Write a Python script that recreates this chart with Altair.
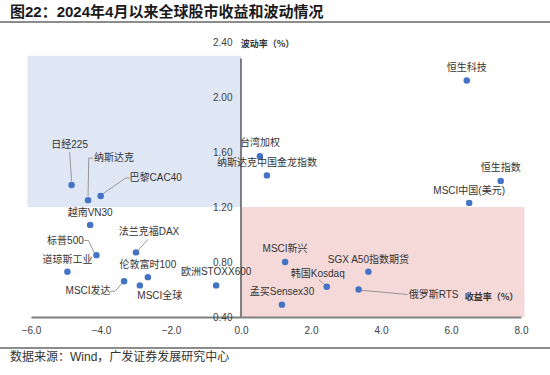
import altair as alt
import pandas as pd
import numpy as np

# ---------------- data ----------------
names = ["恒生科技", "恒生指数", "MSCI中国(美元)", "台湾加权", "纳斯达克中国金龙指数",
         "日经225", "纳斯达克", "巴黎CAC40", "越南VN30", "标普500", "道琼斯工业",
         "法兰克福DAX", "伦敦富时100", "MSCI发达", "MSCI全球", "欧洲STOXX600",
         "MSCI新兴", "SGX A50指数期货", "韩国Kosdaq", "俄罗斯RTS", "孟买Sensex30"]
returns = [6.45, 7.42, 6.52, 0.54, 0.74,
           -4.84, -4.37, -4.01, -4.31, -4.13, -4.96,
           -3.00, -2.66, -3.34, -2.89, -0.71,
           1.26, 3.64, 2.45, 3.36, 1.17]
vols = [2.12, 1.39, 1.23, 1.57, 1.43,
        1.36, 1.25, 1.28, 1.07, 0.85, 0.73,
        0.87, 0.69, 0.66, 0.63, 0.63,
        0.80, 0.73, 0.62, 0.60, 0.49]

x_ticks = [-6, -4, -2, 0, 2, 4, 6, 8]
y_ticks = [0.4, 0.8, 1.2, 1.6, 2.0, 2.4]

# label placement offsets (pixels, relative to the point)
label_dx = [0, 0, 0, 0, 0, -2, 26, 55, 0, -31, 0, 13, 0, -36, 20, 0, 0, 0, -9, 75, 0]
label_dy = [-13, -13, -12, -13, -12, -40, -42, -18, -12, -14, -12, -20, -12, 10, 11, -13, -13, -12, -13, 5, -13]

# leader segments: (name, dx1, dy1, dx2, dy2) in pixels relative to the point
leaders = [
    ("日经225", 0, -4, -2, -33),
    ("纳斯达克", 0, -4, 0.7, -42), ("纳斯达克", 0.7, -42, 5, -42),
    ("巴黎CAC40", 2, -2, 25, -18), ("巴黎CAC40", 25, -18, 29, -18),
    ("标普500", -2, -2, -8, -14.6), ("标普500", -8, -14.6, -12, -14.6),
    ("法兰克福DAX", 2, -2, 12, -13),
    ("MSCI发达", -1.5, 1.5, -9, 10), ("MSCI发达", -9, 10, -14, 10),
    ("韩国Kosdaq", -1.3, -1.3, -8, -7),
    ("俄罗斯RTS", 2, 0.7, 49, 5),
]

# shaded zones
zone_x = [-6.1, 0.0]
zone_x2 = [0.0, 8.1]
zone_y = [1.2, 0.4]
zone_y2 = [2.3, 1.2]
zone_color = ["#dfe7f4", "#f5d9d9"]

# ---------------- layout ----------------
W, H = 490, 275
X_DOM = [-6, 8]
Y_DOM = [0.4, 2.4]
px_x = (X_DOM[1] - X_DOM[0]) / W
px_y = (Y_DOM[1] - Y_DOM[0]) / H

FONT = "Liberation Sans, Noto Sans CJK SC"

pts = pd.DataFrame({"name": names, "ret": returns, "vol": vols})
pts["lx"] = pts["ret"] + np.array(label_dx) * px_x
pts["ly"] = pts["vol"] - np.array(label_dy) * px_y

pos = dict(zip(names, zip(returns, vols)))
seg = pd.DataFrame([
    {"x": pos[n][0] + a * px_x, "y": pos[n][1] - b * px_y,
     "x2": pos[n][0] + c * px_x, "y2": pos[n][1] - d * px_y}
    for n, a, b, c, d in leaders
])

zones = pd.DataFrame({"x": zone_x, "x2": zone_x2, "y": zone_y, "y2": zone_y2, "c": zone_color})

xs = alt.Scale(domain=X_DOM, nice=False, zero=False)
ys = alt.Scale(domain=Y_DOM, nice=False, zero=False)

x_axis = alt.Axis(values=x_ticks, format=".1f", grid=False, ticks=False, zindex=1,
                  labelOverlap=False, labelFlush=False,
                  domainColor="#808080", domainWidth=2.2, labelFont=FONT,
                  labelFontSize=10, labelColor="#404040", labelPadding=8,
                  title="收益率（%）", titleFont="Noto Sans CJK SC", titleFontSize=9,
                  titleFontWeight="bold", titleColor="#333333", titleAngle=0,
                  titleX=460, titleY=-21, titleAlign="center", titleBaseline="middle")
y_axis = alt.Axis(values=y_ticks, format=".2f", grid=False, ticks=False, domain=False,
                  zindex=1, labelOverlap=False, labelFlush=False,
                  offset=-210, labelFont=FONT, labelFontSize=10, labelColor="#404040",
                  labelPadding=9,
                  title="波动率（%）", titleFont="Noto Sans CJK SC", titleFontSize=9,
                  titleFontWeight="bold", titleColor="#333333", titleAngle=0,
                  titleX=26, titleY=1, titleAlign="center", titleBaseline="middle")


def X(field):
    return alt.X(field, type="quantitative", scale=xs, axis=x_axis)


def Y(field):
    return alt.Y(field, type="quantitative", scale=ys, axis=y_axis)


rects = alt.Chart(zones).mark_rect().encode(
    x=X("x"), x2="x2:Q", y=Y("y"), y2="y2:Q",
    color=alt.Color("c:N", scale=None),
)

yline = alt.Chart(pd.DataFrame({"x": [0.0], "y": [0.4], "y2": [2.28]})).mark_rule(
    color="#333333", strokeWidth=1.2
).encode(x=X("x"), y=Y("y"), y2="y2:Q")

lead = alt.Chart(seg).mark_rule(color="#8c8c8c", strokeWidth=0.9).encode(
    x=X("x"), y=Y("y"), x2="x2:Q", y2="y2:Q",
)

points = alt.Chart(pts).mark_circle(size=42, color="#4472c4", opacity=1).encode(
    x=X("ret"), y=Y("vol"),
)

labels = alt.Chart(pts).mark_text(
    font=FONT, fontSize=10, color="#333333", align="center", baseline="middle"
).encode(x=X("lx"), y=Y("ly"), text="name:N")

one = alt.Data(values=[{}])
title = alt.Chart(one).mark_text(
    text="图22：2024年4月以来全球股市收益和波动情况", font=FONT, fontSize=15,
    fontWeight="bold", color="#1a1a1a", align="left", baseline="middle"
).encode(x=alt.value(-21), y=alt.value(-30))

title_line = alt.Chart(one).mark_rule(color="#666666", strokeWidth=1.5).encode(
    x=alt.value(-31), x2=alt.value(519), y=alt.value(-20))

src_line = alt.Chart(one).mark_rule(color="#666666", strokeWidth=1.5).encode(
    x=alt.value(-31), x2=alt.value(519), y=alt.value(306))

source = alt.Chart(one).mark_text(
    text="数据来源：Wind，广发证券发展研究中心", font=FONT, fontSize=12,
    color="#333333", align="left", baseline="middle"
).encode(x=alt.value(-21), y=alt.value(315))

chart = alt.layer(rects, yline, lead, points, labels, title, title_line, src_line, source).properties(
    width=W, height=H,
    autosize=alt.AutoSizeParams(type="none"),
    padding={"left": 31, "top": 42, "right": 29, "bottom": 58},
    background="white",
).configure_view(stroke=None)

chart.save("out.html", embed_options={"renderer": "svg", "actions": False})
